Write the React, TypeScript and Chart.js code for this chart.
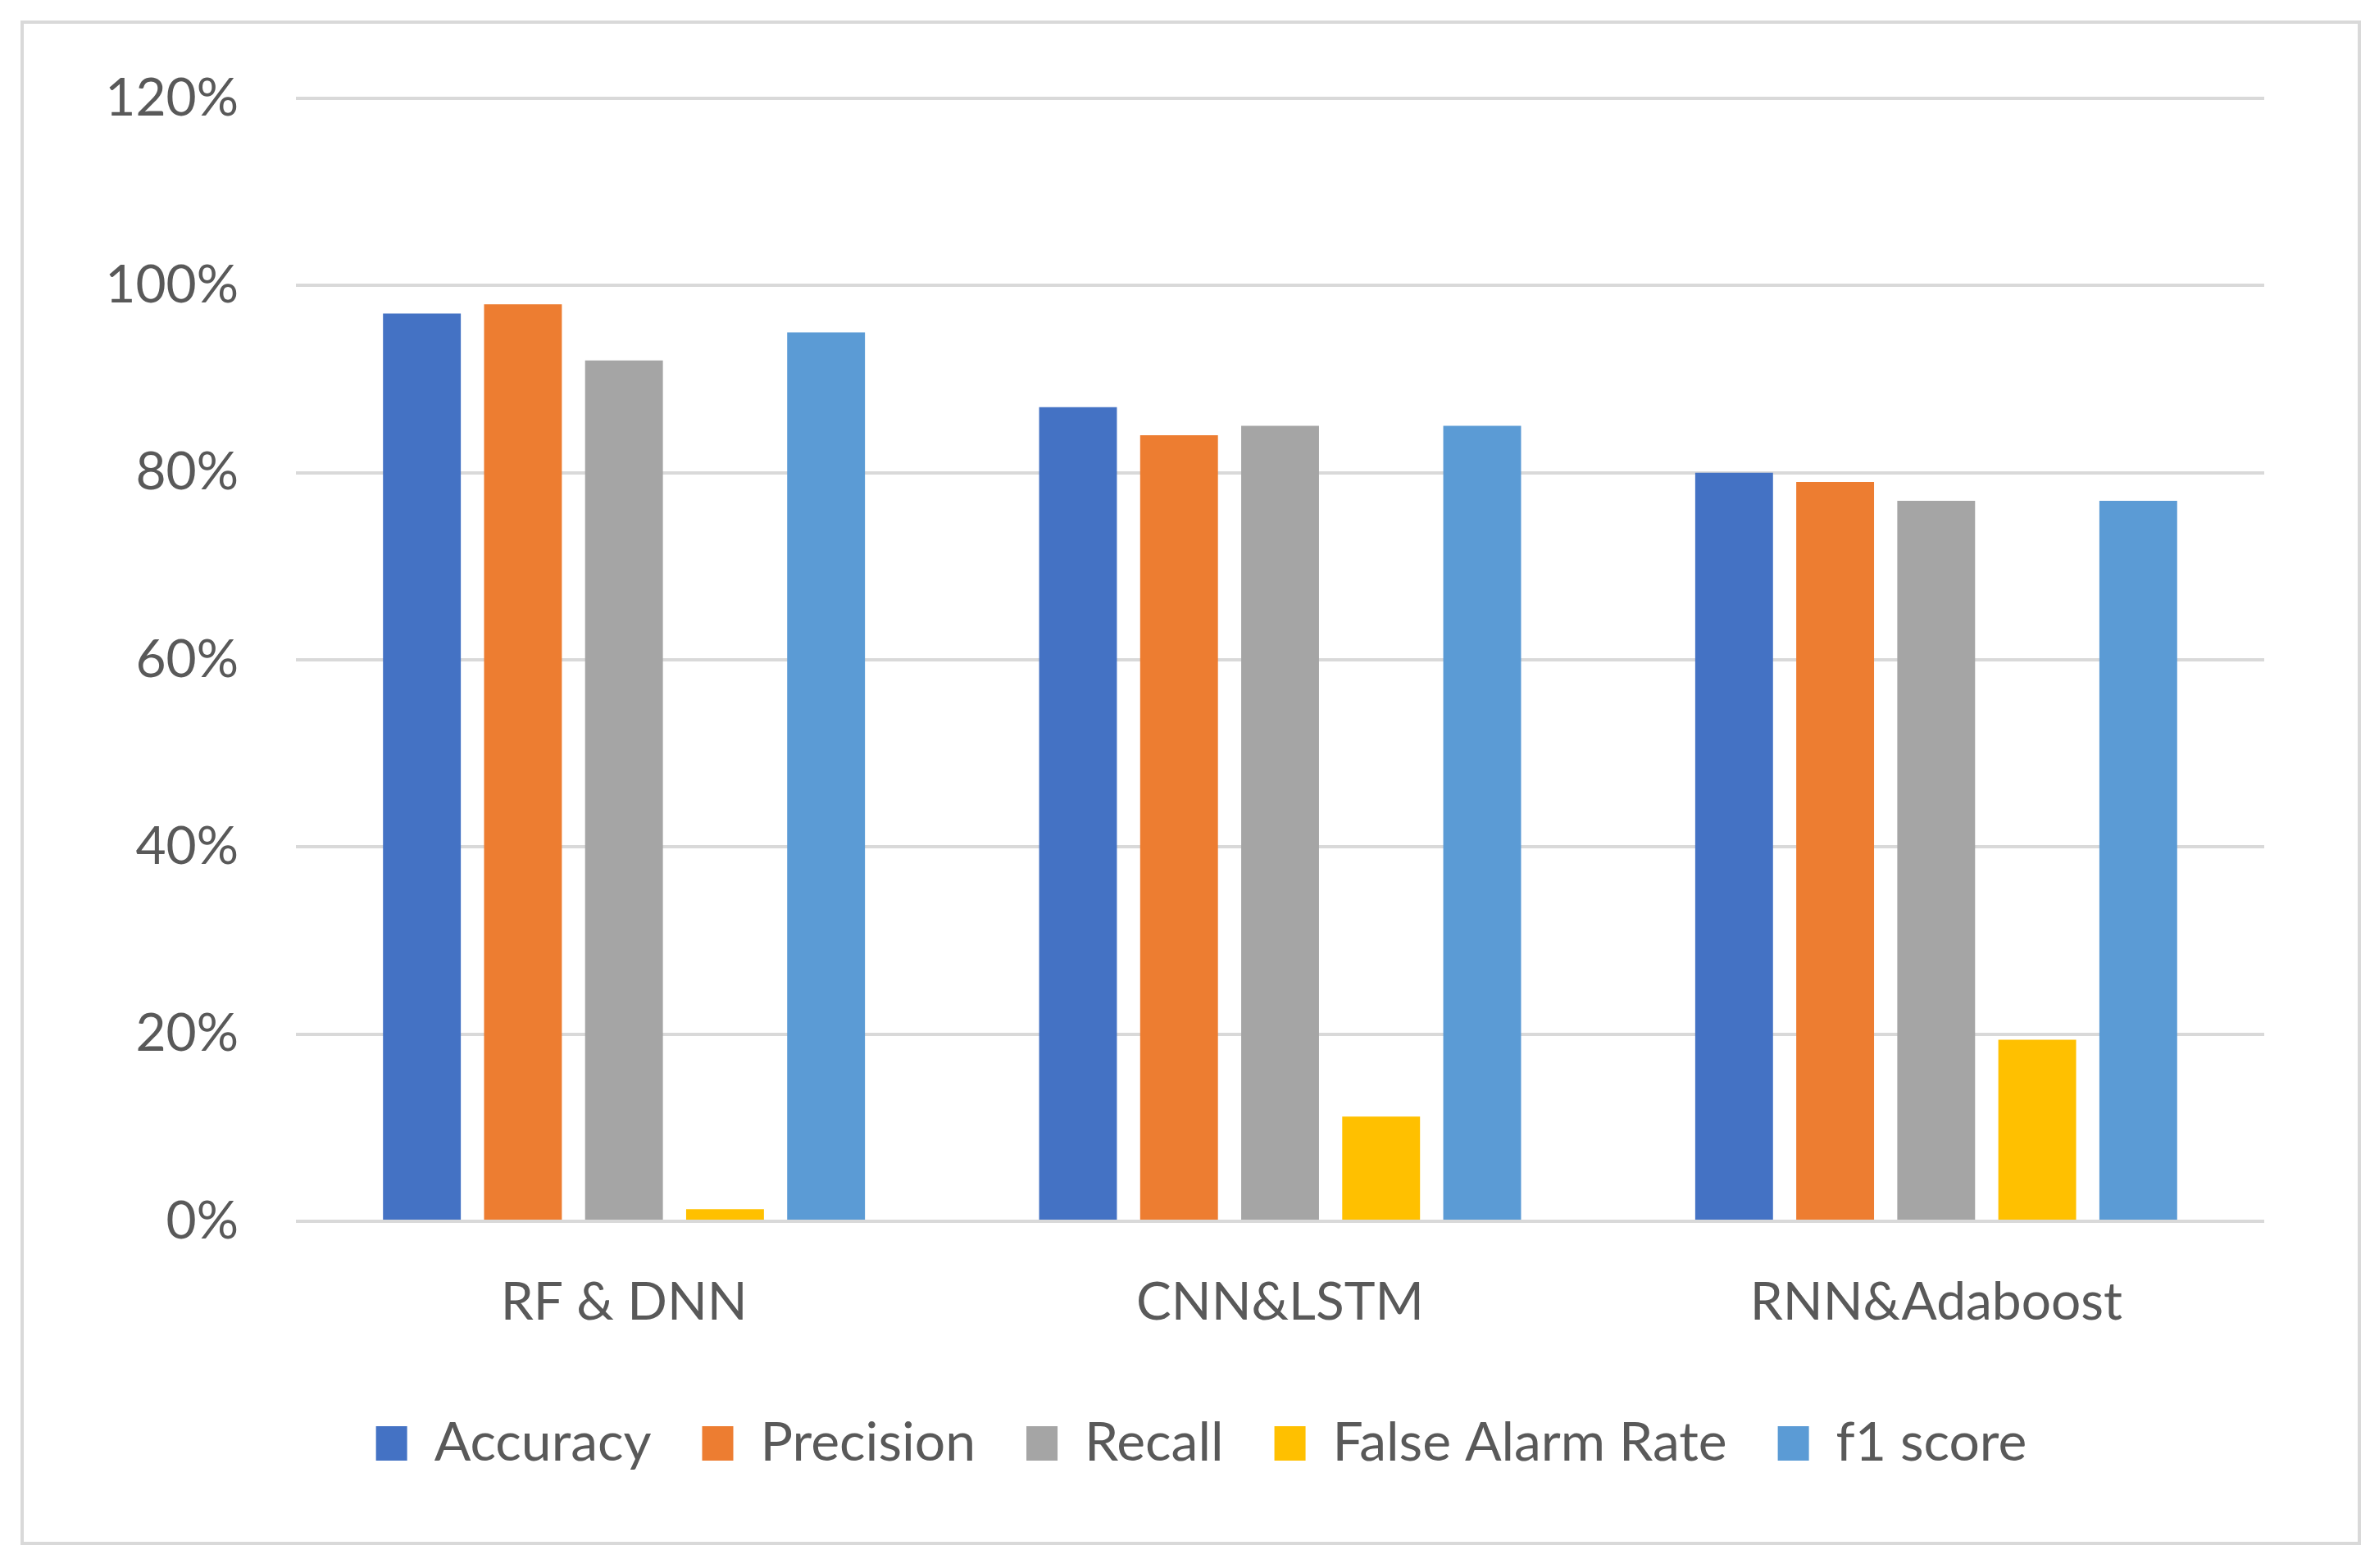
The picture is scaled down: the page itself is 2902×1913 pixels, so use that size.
import { useEffect, useRef } from "react"
import { Chart, registerables } from "chart.js"

Chart.register(...registerables)

const categories = ["RF & DNN", "CNN&LSTM", "RNN&Adaboost"]
const accuracy = [97, 87, 80]
const precision = [98, 84, 79]
const recall = [92, 85, 77]
const falseAlarmRate = [1.3, 11.2, 19.4]
const f1Score = [95, 85, 77]
const yMax = 120
const yStep = 20

const FONT = "Lato, 'Open Sans', sans-serif"
const TEXT = "#595959"
const GRID = "#d9d9d9"

// the reference legend sits a little right of the canvas centre
const legendShift = {
  id: "legendShift",
  afterLayout(chart: Chart) {
    const legend = chart.legend
    if (legend) {
      legend.left += 70
      legend.right += 70
    }
  },
}

export default function App() {
  const chartRef = useRef<HTMLCanvasElement>(null)
  const chartInstance = useRef<Chart | null>(null)

  useEffect(() => {
    if (!chartRef.current) return
    if (chartInstance.current) chartInstance.current.destroy()
    const ctx = chartRef.current.getContext("2d")
    if (!ctx) return

    const series = [
      { label: "Accuracy", data: accuracy, color: "#4472C4" },
      { label: "Precision", data: precision, color: "#ED7D31" },
      { label: "Recall", data: recall, color: "#A5A5A5" },
      { label: "False Alarm Rate", data: falseAlarmRate, color: "#FFC000" },
      { label: "f1 score", data: f1Score, color: "#5B9BD5" },
    ]

    chartInstance.current = new Chart(ctx, {
      type: "bar",
      data: {
        labels: categories,
        datasets: series.map((s) => ({
          label: s.label,
          data: s.data,
          backgroundColor: s.color,
          borderWidth: 0,
          categoryPercentage: 0.77,
          barPercentage: 0.77,
        })),
      },
      plugins: [legendShift],
      options: {
        responsive: true,
        maintainAspectRatio: false,
        animation: false,
        layout: {
          padding: { top: 91, right: 114, bottom: 77, left: 0 },
        },
        plugins: {
          legend: {
            display: true,
            position: "bottom",
            labels: {
              color: TEXT,
              font: { family: FONT, size: 66 },
              boxWidth: 38,
              boxHeight: 42,
              padding: 62,
            },
          },
          tooltip: { enabled: false },
        },
        scales: {
          x: {
            grid: { display: false, drawTicks: false },
            border: { display: false },
            ticks: {
              color: TEXT,
              font: { family: FONT, size: 64 },
              padding: 61,
            },
            afterFit: (scale) => {
              scale.height = 176
            },
          },
          y: {
            min: 0,
            max: yMax,
            grid: {
              color: GRID,
              lineWidth: 4,
              drawTicks: true,
              tickLength: 70,
              tickColor: "rgba(0,0,0,0)",
            },
            border: { display: false },
            ticks: {
              stepSize: yStep,
              color: TEXT,
              font: { family: FONT, size: 64 },
              padding: 0,
              callback: (value) => value + "%",
            },
            afterFit: (scale) => {
              scale.width = 332
            },
          },
        },
      },
    })

    return () => {
      if (chartInstance.current) {
        chartInstance.current.destroy()
        chartInstance.current = null
      }
    }
  }, [])

  return (
    <div
      style={{
        position: "absolute",
        left: 0,
        top: 0,
        width: 2902,
        height: 1913,
        background: "#ffffff",
      }}
    >
      <div
        style={{
          position: "absolute",
          left: 25,
          top: 25,
          width: 2847,
          height: 1852,
          border: "4px solid #d9d9d9",
          background: "#ffffff",
        }}
      >
        <canvas ref={chartRef} />
      </div>
    </div>
  )
}
